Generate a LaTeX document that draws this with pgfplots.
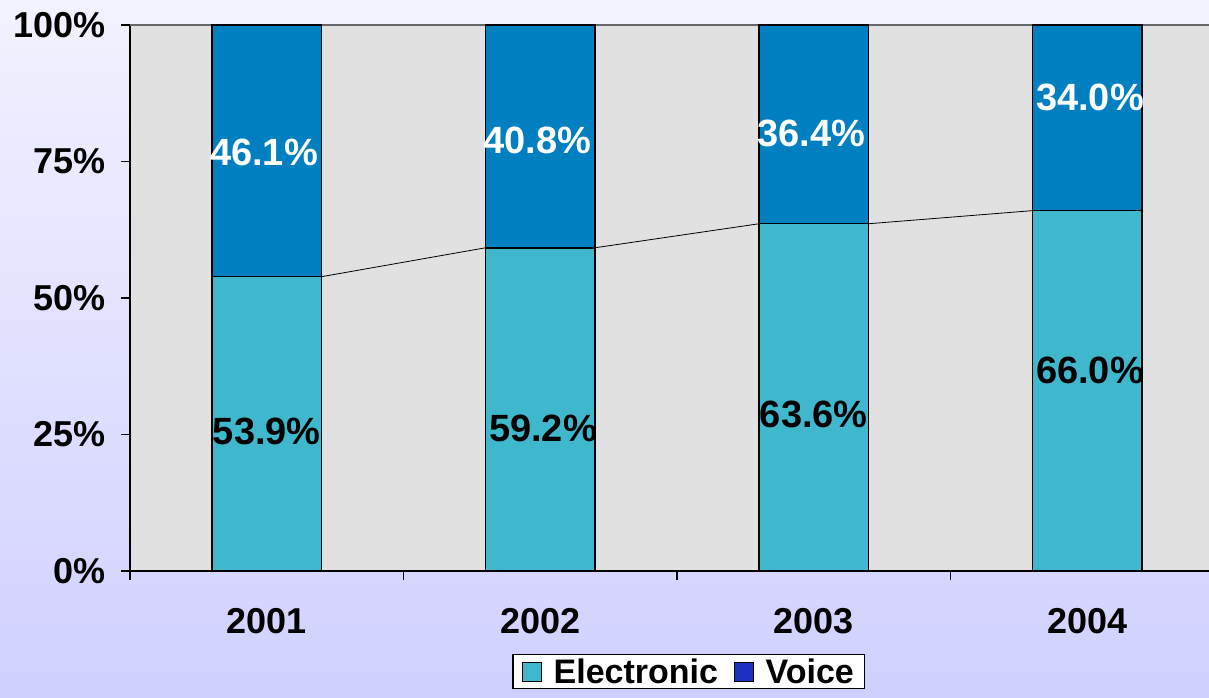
\documentclass[border=0pt]{standalone}
\usepackage{pgfplots}
\pgfplotsset{compat=1.18}
\usepackage{fontspec}
\setmainfont{Liberation Sans}
\definecolor{elec}{RGB}{63,184,205}
\definecolor{voice}{RGB}{0,128,192}
\definecolor{voiceleg}{RGB}{31,47,191}
\definecolor{plotbg}{RGB}{225,225,225}
\definecolor{bgtop}{RGB}{242,242,255}
\definecolor{bgbot}{RGB}{208,208,255}
\pgfplotsset{geom/.style={at={(130pt,126pt)}, anchor=south west,
  scale only axis, width=1079pt, height=546pt,
  xmin=-0.5, xmax=3.445, ymin=0, ymax=100}}
\begin{document}
\begin{tikzpicture}[x=1pt,y=1pt]
\shade[top color=bgtop, bottom color=bgbot] (0,0) rectangle (1209,697);
\begin{axis}[geom,
  ybar stacked, bar width=0.4,
  axis lines*=left,
  axis line style={black, line width=1.5pt},
  axis background/.style={fill=plotbg},
  tick align=outside, major tick length=9pt,
  tick style={black, line width=1.5pt},
  ytick={0,25,50,75,100},
  yticklabel={\pgfmathprintnumber{\tick}\%},
  yticklabel style={xshift=-12pt},
  xtick={-0.5,0.5,1.5,2.5}, xticklabels={},
  extra x ticks={0,1,2,3},
  extra x tick labels={2001,2002,2003,2004},
  extra x tick style={major tick length=0pt, xticklabel style={yshift=-34pt}},
  /pgf/number format/assume math mode=true,
  ticklabel style={font=\bfseries\fontsize{36}{40}\selectfont, text=black},
  legend style={at={(0.518,-0.152)}, anchor=north, legend columns=2,
    draw=black, line width=1.2pt, fill=white,
    font=\bfseries\fontsize{34}{38}\selectfont,
    /tikz/every even column/.append style={column sep=14pt},
    inner xsep=9pt, inner ysep=2pt},
  legend cell align=left,
]
\addplot[fill=elec, draw=black, line width=1.5pt, forget plot] coordinates {(0,53.9) (1,59.2) (2,63.6) (3,66.0)};
\addplot[fill=voice, draw=black, line width=1.5pt, forget plot] coordinates {(0,46.1) (1,40.8) (2,36.4) (3,34.0)};
\addlegendimage{legend image code/.code={\draw[fill=elec,draw=black,line width=1.2pt] (0pt,-9.5pt) rectangle (19pt,9.5pt); \path[draw=none,fill=none] (0pt,0pt) -- (29pt,0pt);}}
\addlegendentry{Electronic}
\addlegendimage{legend image code/.code={\draw[fill=voiceleg,draw=black,line width=1.2pt] (0pt,-9.5pt) rectangle (19pt,9.5pt); \path[draw=none,fill=none] (0pt,0pt) -- (29pt,0pt);}}
\addlegendentry{Voice}
\draw[black!60, line width=1.5pt] (rel axis cs:0,1) -- (rel axis cs:1,1);
\end{axis}
\begin{axis}[geom, hide axis]
\addplot[sharp plot, black, line width=0.8pt, mark=none] coordinates {(0.2,53.9) (0.8,59.2)};
\addplot[sharp plot, black, line width=0.8pt, mark=none] coordinates {(1.2,59.2) (1.8,63.6)};
\addplot[sharp plot, black, line width=0.8pt, mark=none] coordinates {(2.2,63.6) (2.8,66.0)};
\begin{scope}[every node/.style={font=\bfseries\fontsize{38}{42}\selectfont, inner sep=0pt}]
\node[text=black] at (axis cs:0,25.5) {53.9\%};
\node[text=black] at (axis cs:1.01,26.2) {59.2\%};
\node[text=black] at (axis cs:2,28.6) {63.6\%};
\node[text=black] at (axis cs:3.01,36.8) {66.0\%};
\node[text=white] at (axis cs:-0.01,76.7) {46.1\%};
\node[text=white] at (axis cs:0.99,78.9) {40.8\%};
\node[text=white] at (axis cs:1.99,80.2) {36.4\%};
\node[text=white] at (axis cs:3.01,86.8) {34.0\%};
\end{scope}
\end{axis}
\pgfresetboundingbox
\useasboundingbox (0,0) rectangle (1209,697);
\end{tikzpicture}
\end{document}
